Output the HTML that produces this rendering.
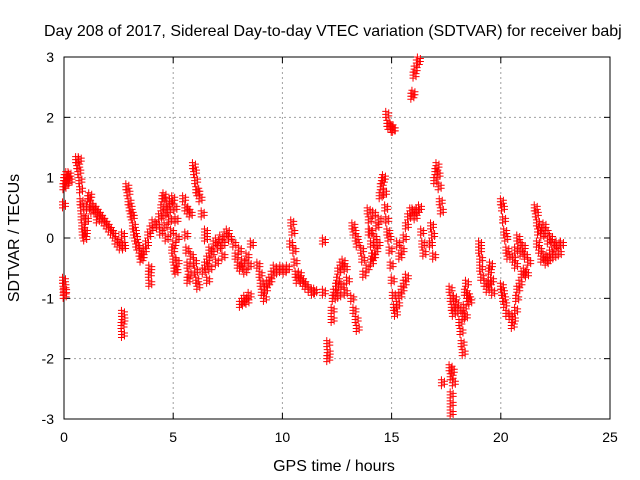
<!DOCTYPE html>
<html><head><meta charset="utf-8"><style>
body{margin:0;background:#fff}
svg{display:block;font-family:"Liberation Sans",sans-serif}
</style></head><body>
<svg id="chart" width="640" height="480" viewBox="0 0 640 480" xmlns="http://www.w3.org/2000/svg">
<text x="44" y="36" font-size="16">Day 208 of 2017, Sidereal Day-to-day VTEC variation (SDTVAR) for receiver babj</text>
<g id="grid"></g>
<g id="axes"></g>
<g id="marks"></g>
<text x="334" y="471" font-size="16" text-anchor="middle">GPS time / hours</text>
<text transform="translate(19,238) rotate(-90)" font-size="16" text-anchor="middle">SDTVAR / TECUs</text>
</svg>
<script>
const xTicks=[0,5,10,15,20,25];
const yTicks=[-3,-2,-1,0,1,2,3];
const times=[0,0.02,0.05,0.08,0.12,0.15,0.2,0.25,0.3,0,0.02,0.03,0.05,
0.6,0.65,0.7,0.72,0.75,0.78,0.8,0.83,0.85,0.88,0.9,0.93,0.97,1.0,1.05,1.1,1.15,1.2,1.25,1.3,1.4,1.5,1.55,1.6,1.7,1.8,1.9,2.0,2.1,2.2,2.3,2.4,2.5,2.6,2.7,2.72,2.75,2.7,2.72,2.68,2.7,
2.9,2.95,3.0,3.05,3.1,3.15,3.2,3.25,3.3,3.35,3.4,3.5,3.55,3.6,3.7,3.8,3.9,4.0,4.1,3.95,3.93,3.95,
4.3,4.4,4.5,4.55,4.6,4.65,4.7,4.75,4.8,4.85,4.9,4.95,5.0,5.05,5.1,5.0,5.05,5.1,5.15,5.2,5.15,5.2,4.6,4.45,
5.5,5.6,5.7,5.8,5.6,5.65,5.7,5.75,5.7,5.85,
5.95,6.0,6.05,6.1,6.15,6.25,6.35,6.0,6.05,6.1,6.15,6.5,6.5,
6.4,6.5,6.6,6.7,6.8,6.9,7.0,7.1,7.2,7.3,7.4,7.5,7.6,7.3,7.0,6.7,6.6,
7.8,7.9,8.0,8.05,8.1,8.2,8.3,8.4,8.5,8.6,8.1,8.2,8.3,8.4,8.5,
8.9,9.0,9.05,9.1,9.2,9.25,9.35,9.45,9.55,9.65,9.8,9.95,10.1,10.25,
10.4,10.45,10.5,10.55,10.6,10.65,10.7,10.8,10.9,11.0,11.1,11.25,11.4,11.5,11.9,11.9,12.1,12.12,12.1,
12.3,12.3,12.35,12.4,12.5,12.55,12.6,12.7,12.8,12.9,12.6,12.75,12.9,13.0,13.2,13.3,13.4,13.45,13.25,13.3,13.4,13.45,13.65,13.7,13.75,13.9,
13.95,14.0,14.05,14.1,14.15,14.2,14.25,14.3,14.35,14.4,14.45,14.5,14.55,14.6,14.65,14.7,14.75,14.8,14.85,14.1,14.2,14.0,
14.8,14.85,14.9,15.0,15.1,15.05,
14.9,14.95,15.0,15.05,15.1,15.15,15.2,15.3,15.4,15.5,15.6,15.7,15.3,15.4,15.5,15.6,15.7,15.8,15.9,16.0,16.1,16.2,16.3,
15.95,16.0,16.05,16.1,16.2,16.25,
16.4,16.45,16.5,16.8,16.9,16.85,16.95,17.0,17.05,17.1,17.15,17.2,17.25,17.3,
17.35,17.7,17.75,17.8,17.85,17.75,17.75,17.75,
17.7,17.75,17.8,17.85,17.9,18.0,18.1,18.15,18.2,18.25,18.3,18.3,18.35,18.4,18.45,18.5,18.55,18.6,18.4,
19.05,19.05,19.1,19.1,19.15,19.3,19.4,19.5,19.6,19.65,19.55,19.5,
20.05,20.1,20.15,20.2,20.25,20.3,20.35,20.05,20.1,20.15,20.2,20.3,
20.45,20.55,20.6,20.7,20.75,20.8,20.9,21.0,21.1,21.2,20.6,20.7,20.8,20.85,20.95,21.05,21.15,21.3,20.7,
21.6,21.65,21.7,21.75,21.8,21.9,22.0,22.1,22.2,22.3,22.4,22.5,22.6,22.7,22.8,21.8,21.9,22.0,22.1,22.2,22.3,22.45,21.7];
const sdtvar=[0.55,0.85,0.95,1.0,0.9,1.05,1.0,1.05,0.95,-0.7,-0.8,-0.95,-0.88,
1.3,1.2,1.1,1.3,0.95,0.8,0.6,0.5,0.35,0.2,0.1,0.05,0.0,0.1,0.3,0.5,0.65,0.7,0.55,0.45,0.5,0.45,0.3,0.4,0.35,0.3,0.25,0.2,0.15,0.1,0.05,-0.05,-0.1,-0.15,0.05,-0.1,-0.15,-1.25,-1.35,-1.45,-1.6,
0.85,0.75,0.6,0.5,0.4,0.35,0.2,0.1,0.0,-0.1,-0.15,-0.25,-0.35,-0.3,-0.2,-0.1,0.05,0.15,0.25,-0.5,-0.6,-0.75,
0.2,0.35,0.5,0.65,0.4,0.2,0.0,0.55,0.45,0.3,0.6,0.1,0.65,-0.1,0.5,-0.2,-0.35,-0.5,-0.55,-0.4,0.3,0.0,0.7,0.1,
0.65,0.5,0.45,0.4,0.05,-0.2,-0.45,-0.6,-0.7,-0.3,
1.2,1.1,0.95,0.8,0.75,0.65,0.4,-0.4,-0.55,-0.7,-0.8,0.1,0.0,
-0.55,-0.45,-0.35,-0.2,-0.25,-0.1,-0.05,-0.15,0.0,-0.1,0.05,0.1,0.0,-0.3,-0.4,-0.5,-0.7,
-0.1,-0.3,-0.45,-0.2,-0.5,-0.4,-0.55,-0.3,-0.45,-0.1,-1.1,-1.05,-1.0,-1.05,-0.95,
-0.45,-0.6,-0.75,-0.9,-1.0,-0.85,-0.75,-0.7,-0.6,-0.5,-0.55,-0.5,-0.55,-0.5,
-0.1,0.25,0.1,-0.2,-0.4,-0.6,-0.7,-0.6,-0.7,-0.75,-0.8,-0.85,-0.9,-0.88,-0.05,-0.9,-1.75,-1.9,-2.0,
-1.2,-1.35,-1.0,-0.9,-0.8,-0.7,-0.55,-0.45,-0.4,-0.5,-0.95,-0.8,-0.9,-0.7,-1.0,-1.2,-1.35,-1.5,0.2,0.1,0.0,-0.1,-0.2,-0.35,-0.6,-0.5,
0.45,0.3,0.1,-0.1,-0.3,0.4,0.0,-0.2,0.2,-0.1,0.3,0.7,0.85,0.95,1.0,0.75,0.5,0.3,0.1,-0.4,-0.3,0.1,
2.05,1.9,1.85,1.85,1.8,1.8,
0.0,-0.2,-0.45,-0.7,-0.95,-1.15,-1.25,-1.1,-0.95,-0.85,-0.75,-0.65,-0.1,-0.3,-0.2,0.0,0.2,0.35,0.45,0.45,0.35,0.45,0.5,
2.35,2.4,2.7,2.8,2.9,2.95,
0.1,-0.1,-0.25,-0.1,0.05,0.2,-0.3,0.95,1.1,1.2,1.05,0.85,0.6,0.45,
-2.4,-2.15,-2.3,-2.2,-2.4,-2.6,-2.75,-2.9,
-0.85,-1.0,-1.15,-1.25,-1.0,-1.1,-1.2,-1.4,-1.55,-1.75,-1.9,-1.3,-1.15,-0.9,-0.75,-0.95,-1.0,-1.05,-1.3,
-0.1,-0.2,-0.35,-0.5,-0.65,-0.75,-0.85,-0.75,-0.7,-0.9,-0.45,-0.55,
0.6,0.5,0.3,0.1,0.0,-0.2,-0.3,-0.8,-0.9,-1.0,-1.1,-1.25,
-1.3,-1.45,-1.35,-1.2,-1.0,-0.85,-0.75,-0.6,-0.55,-0.6,-0.35,-0.2,0.0,-0.1,-0.25,-0.15,-0.3,-0.4,-0.45,
0.5,0.4,0.25,0.1,0.15,0.05,0.2,0.1,-0.05,0.0,-0.1,-0.15,-0.1,-0.25,-0.1,-0.2,-0.35,-0.3,-0.4,-0.35,-0.25,-0.3,-0.1];

const L=64,R=610,T=57,B=419;
const xs=t=>L+(t-0)/(25-0)*(R-L);
const ys=v=>B-(v+3)/6*(B-T);
const NS="http://www.w3.org/2000/svg";
const grid=document.getElementById('grid'),axes=document.getElementById('axes'),marks=document.getElementById('marks');
function mk(tag,attrs,parent){const e=document.createElementNS(NS,tag);for(const k in attrs)e.setAttribute(k,attrs[k]);parent.appendChild(e);return e;}
xTicks.forEach(t=>{
  const x=xs(t);
  if(t>0&&t<25){const g=mk('line',{x1:x,x2:x,y1:T,y2:B,stroke:'#a0a0a0','stroke-dasharray':'2,3'},grid);
  
  }
  mk('line',{x1:x,x2:x,y1:B,y2:B-6,stroke:'#000'},axes);
  mk('line',{x1:x,x2:x,y1:T,y2:T+6,stroke:'#000'},axes);
  const lb=mk('text',{x:x,y:B+23,'font-size':14,'text-anchor':'middle'},axes);lb.textContent=t;
  
  
});
yTicks.forEach(v=>{
  const y=ys(v);
  if(v>-3&&v<3){const g=mk('line',{x1:L,x2:R,y1:y,y2:y,stroke:'#a0a0a0','stroke-dasharray':'2,3'},grid);
  
  }
  mk('line',{x1:L,x2:L+6,y1:y,y2:y,stroke:'#000'},axes);
  mk('line',{x1:R,x2:R-6,y1:y,y2:y,stroke:'#000'},axes);
  const lb=mk('text',{x:L-10,y:y+5,'font-size':14,'text-anchor':'end'},axes);lb.textContent=v;
  
  
});
const fr=mk('rect',{x:L,y:T,width:R-L,height:B-T,fill:'none',stroke:'#000','stroke-width':1},axes);


function plus(x,y,color,parent){
  let d='';
  [[-1.5,-3],[1.5,-1.5],[-1.5,0],[1.5,1.5],[-1.5,3]].forEach(o=>{const cx=x+o[0],cy=y+o[1];d+=`M${cx-3.5},${cy}h7M${cx},${cy-3.5}v7`;});
  return mk('path',{d:d,stroke:color,'stroke-width':1,fill:'none'},parent);
}
times.forEach((t,i)=>{
  const p=plus(xs(t),ys(sdtvar[i]),'#ff0000',marks);
  
  
});
</script>
</body></html>
